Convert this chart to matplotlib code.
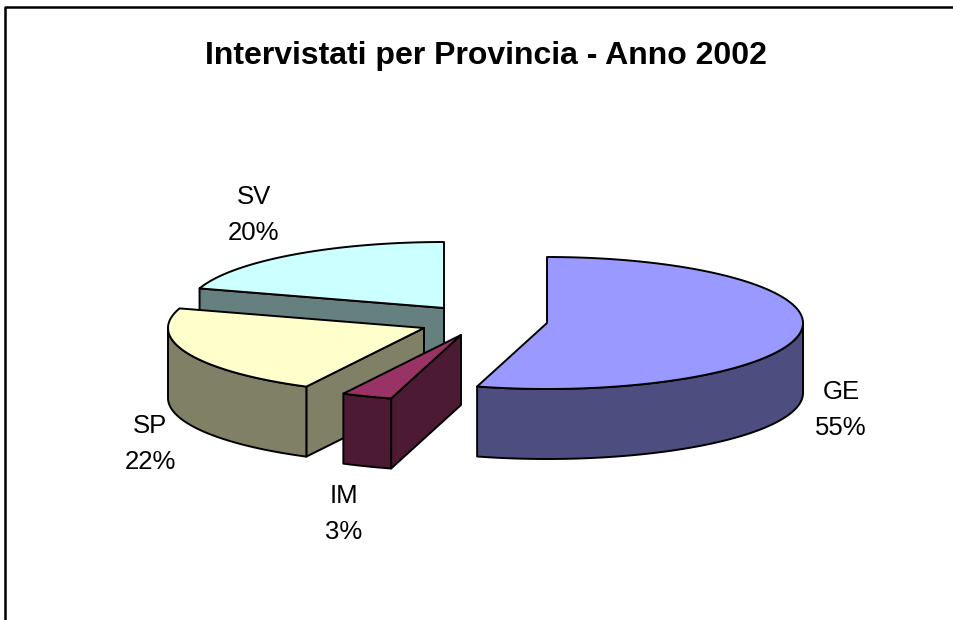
import numpy as np
import matplotlib
matplotlib.use('Agg')
import matplotlib.pyplot as plt
from matplotlib.patches import Polygon

plt.rcParams['font.family'] = ['Liberation Sans', 'DejaVu Sans']

# data, clockwise from 12 o'clock
provinces = ['GE', 'IM', 'SP', 'SV']
values = [54.4, 3.2, 22.2, 20.2]
pct_labels = ['55%', '3%', '22%', '20%']

top_colors = ['#9999FF', '#993366', '#FFFFCC', '#CCFFFF']
side_colors = ['#4D4D80', '#4D1A33', '#808066', '#668080']

# exploded tip of each slice, in pixels
tips = [(547, 323), (461, 335), (424, 328), (444, 308)]
label_pos = [(841, 410), (344, 514), (150, 444), (254, 215)]

RX, RY, DEPTH = 256, 66, 70


def rim(tip, a0, a1):
    # points on the ellipse, angle clockwise from the top
    t = np.radians(np.linspace(a0, a1, 120))
    return np.column_stack([tip[0] + RX * np.sin(t), tip[1] - RY * np.cos(t)])


def poly(ax, pts, color):
    ax.add_patch(Polygon(pts, closed=True, facecolor=color, edgecolor='black',
                         linewidth=1.4, joinstyle='round'))


def draw_slice(ax, tip, a0, a1, top, side):
    drop = np.array([0, DEPTH])
    tip_pt = np.array(tip, dtype=float)
    # cut faces looking at the viewer
    for ang, visible in ((a0, np.sin(np.radians(a0)) < -1e-6),
                         (a1, np.sin(np.radians(a1)) > 1e-6)):
        if visible:
            edge = rim(tip, ang, ang)[0]
            poly(ax, [tip_pt, edge, edge + drop, tip_pt + drop], side)
    # outer wall, front half only
    w0, w1 = max(a0, 90), min(a1, 270)
    if w1 > w0:
        arc = rim(tip, w0, w1)
        poly(ax, np.vstack([arc, (arc + drop)[::-1]]), side)
    poly(ax, np.vstack([[tip_pt], rim(tip, a0, a1)]), top)


fig = plt.figure(figsize=(9.54, 6.2), dpi=100)
ax = fig.add_axes([0, 0, 1, 1])
ax.set_xlim(0, 954)
ax.set_ylim(620, 0)
ax.axis('off')

# chart frame, cropped at the right and bottom
ax.plot([5, 5, 954], [620, 7, 7], color='black', linewidth=1.8)

ends = np.cumsum(values) / np.sum(values) * 360
starts = np.concatenate([[0], ends[:-1]])
for i in [3, 2, 1, 0]:
    draw_slice(ax, tips[i], starts[i], ends[i], top_colors[i], side_colors[i])

for name, pct, pos in zip(provinces, pct_labels, label_pos):
    ax.text(pos[0], pos[1], name + '\n' + pct, ha='center', va='center',
            fontsize=18.5, linespacing=1.62, color='black')

ax.text(485.5, 56, 'Intervistati per Provincia - Anno 2002', ha='center', va='center',
        fontsize=23, fontweight='bold', color='black')

fig.savefig('out.png', dpi=100)
